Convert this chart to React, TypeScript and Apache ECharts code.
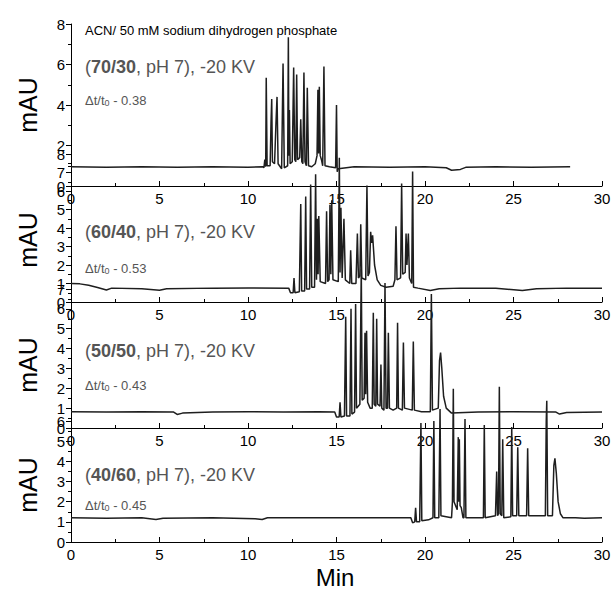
import React, { useEffect, useRef } from "react";
import * as echarts from "echarts";

// ---------- data (time in min, signal in mAU) ----------
const trace7030: number[][] = [
  [0, 0.95], [2, 0.92], [4, 0.95], [6, 0.93], [8, 0.95], [10, 0.93], [10.85, 0.95],
  [10.9, 0.9], [10.95, 1.3], [11.0, 0.95], [11.03, 5.35], [11.08, 1.0],
  [11.25, 1.0], [11.3, 3.1], [11.34, 4.3], [11.38, 1.2],
  [11.5, 1.1], [11.58, 3.1], [11.64, 4.4], [11.7, 1.1],
  [11.9, 0.85], [11.98, 6.05], [12.05, 0.9],
  [12.24, 1.0], [12.28, 7.35], [12.31, 1.5], [12.34, 3.75], [12.38, 1.1],
  [12.5, 1.2], [12.58, 5.85], [12.64, 1.3],
  [12.7, 1.2], [12.75, 5.5], [12.8, 1.3],
  [12.92, 1.4], [12.98, 3.3], [13.04, 1.2],
  [13.1, 1.1], [13.16, 5.6], [13.22, 1.2],
  [13.3, 1.0], [13.35, 4.85], [13.42, 1.0],
  [13.6, 0.95], [13.8, 1.1], [13.9, 1.5], [13.95, 4.75], [13.99, 1.6], [14.03, 4.9], [14.08, 1.5],
  [14.15, 1.3], [14.22, 1.0], [14.29, 5.9], [14.35, 1.0],
  [14.6, 0.95], [14.95, 0.9], [15.0, 4.0], [15.04, 0.7], [15.1, 0.85],
  [16, 0.95], [18, 0.92], [20, 0.95], [21.2, 0.9], [21.5, 0.78], [22, 0.82], [22.3, 0.92],
  [24, 0.95], [26, 0.93], [28.2, 0.95],
];

const trace6040: number[][] = [
  [0, 1.0], [0.5, 0.98], [1, 0.9], [1.5, 0.78], [2, 0.65], [2.3, 0.75], [4, 0.72], [5, 0.64],
  [5.4, 0.72], [8, 0.75], [10, 0.76], [12.3, 0.75], [12.4, 0.5], [12.55, 0.5],
  [12.6, 1.3], [12.65, 0.5],
  [12.9, 0.55], [12.98, 5.3], [13.03, 0.6],
  [13.2, 0.6], [13.26, 5.7], [13.31, 0.7],
  [13.48, 0.7], [13.54, 6.35], [13.6, 0.8],
  [13.76, 0.8], [13.82, 6.9], [13.87, 1.2],
  [13.92, 4.5], [13.96, 1.5], [14.0, 4.65], [14.08, 1.1],
  [14.38, 1.0], [14.44, 4.9], [14.5, 1.1],
  [14.58, 1.2], [14.63, 5.25], [14.68, 1.5], [14.73, 5.5], [14.8, 1.2],
  [15.1, 1.1], [15.16, 7.8], [15.2, 1.6], [15.25, 5.1], [15.32, 1.3], [15.42, 4.5], [15.5, 1.2],
  [15.75, 1.0], [15.8, 2.8], [15.86, 1.0],
  [16.1, 1.0], [16.18, 3.7], [16.24, 1.3], [16.32, 1.4], [16.37, 4.2], [16.43, 1.3],
  [16.65, 1.2], [16.72, 6.3], [16.78, 1.4], [16.86, 1.6], [16.93, 3.8], [16.98, 3.2], [17.04, 3.6],
  [17.15, 2.0], [17.3, 1.2], [17.5, 0.9], [17.8, 0.8],
  [18.2, 0.85], [18.3, 1.2], [18.36, 4.1], [18.42, 1.2],
  [18.62, 1.3], [18.68, 6.4], [18.74, 1.5],
  [18.88, 1.6], [18.93, 3.7], [18.98, 2.0], [19.06, 3.7], [19.12, 1.3],
  [19.25, 1.0], [19.3, 7.05], [19.35, 0.8],
  [19.6, 0.75], [20.3, 0.62], [20.8, 0.72], [22, 0.75], [24, 0.74], [25.5, 0.62], [26.3, 0.72],
  [28, 0.75], [30, 0.75],
];

const trace5050: number[][] = [
  [0, 0.82], [2, 0.8], [4, 0.82], [5.8, 0.8], [6.0, 0.68], [6.3, 0.75], [8, 0.8], [10, 0.82],
  [12, 0.8], [14, 0.82], [14.9, 0.8], [15.0, 0.55],
  [15.15, 0.55], [15.2, 1.3], [15.25, 0.55],
  [15.45, 0.6], [15.52, 5.6], [15.57, 0.6],
  [15.76, 0.6], [15.82, 6.0], [15.87, 0.7],
  [16.02, 0.8], [16.08, 6.25], [16.13, 1.0],
  [16.32, 1.2], [16.4, 8.0], [16.45, 1.4],
  [16.56, 1.5], [16.61, 4.8], [16.65, 1.7], [16.7, 4.9], [16.76, 1.3], [16.9, 1.0],
  [17.02, 1.0], [17.08, 5.8], [17.13, 1.2], [17.22, 1.1], [17.27, 5.5], [17.32, 1.2],
  [17.46, 1.1], [17.51, 3.2], [17.56, 1.0],
  [17.68, 0.9], [17.74, 7.3], [17.8, 1.0],
  [17.88, 1.0], [17.93, 4.8], [17.99, 1.0],
  [18.2, 0.9], [18.4, 1.0], [18.45, 5.3], [18.5, 1.0],
  [18.72, 0.9], [18.78, 4.3], [18.84, 1.0],
  [19.28, 0.9], [19.34, 4.35], [19.4, 0.9],
  [19.8, 0.82], [20.3, 0.82], [20.36, 6.75], [20.42, 0.9],
  [20.75, 1.0], [20.82, 3.4], [20.88, 3.8], [20.95, 3.0], [21.05, 1.6], [21.2, 1.0], [21.5, 0.75],
  [23, 0.8], [25, 0.82], [27.4, 0.8], [27.6, 0.7], [28, 0.78], [30, 0.8],
];

const trace4060: number[][] = [
  [0, 1.2], [2, 1.18], [4, 1.2], [4.8, 1.12], [5.2, 1.18], [8, 1.2], [10.4, 1.15], [10.8, 1.12],
  [11.1, 1.2], [14, 1.2], [16, 1.2], [19.2, 1.2], [19.3, 0.95],
  [19.42, 1.0], [19.47, 1.7], [19.52, 1.0],
  [19.7, 1.0], [19.77, 5.9], [19.82, 1.05],
  [20.2, 1.1], [20.45, 1.2], [20.5, 6.0], [20.55, 1.2],
  [20.78, 1.2], [20.85, 6.6], [20.9, 1.3],
  [21.5, 1.2], [21.55, 2.0], [21.6, 7.6], [21.64, 2.0],
  [21.82, 1.6], [21.88, 5.2], [21.91, 2.0], [21.94, 5.1], [21.98, 1.8], [22.05, 1.7], [22.15, 1.2],
  [22.2, 1.2], [22.26, 6.1], [22.31, 1.2],
  [23.3, 1.2], [23.35, 5.8], [23.4, 1.2],
  [23.98, 1.3], [24.05, 3.5], [24.1, 1.3], [24.15, 1.4], [24.2, 7.7], [24.25, 1.4],
  [24.34, 1.3], [24.39, 5.1], [24.45, 1.2],
  [24.85, 1.25], [24.9, 5.7], [24.95, 1.3],
  [25.18, 1.3], [25.24, 4.7], [25.3, 1.3],
  [25.74, 1.3], [25.8, 4.65], [25.86, 1.3],
  [26.8, 1.3], [26.85, 6.0], [26.88, 7.0], [26.93, 1.3],
  [27.2, 1.3], [27.28, 3.8], [27.34, 4.15], [27.42, 3.4], [27.52, 2.0], [27.65, 1.4], [27.8, 1.2],
  [28.5, 1.2], [29, 1.18], [30, 1.2],
];

const traces = [trace7030, trace6040, trace5050, trace4060];
const ratios = ["70/30", "60/40", "50/50", "40/60"];
const dtt0 = ["0.38", "0.53", "0.43", "0.45"];
const yMax = [8, 8, 7, 6];
const yInterval = [2, 1, 1, 1];
const xTicks = [0, 5, 10, 15, 20, 25, 30];
const title = "ACN/ 50 mM sodium dihydrogen phosphate";
const yName = "mAU";
const xName = "Min";

// ---------- layout ----------
const panelTop = [24, 154, 289, 421];
const panelBottom = [186, 302, 428, 542];
const condY = [67, 232, 351, 475];
const dtY = [100, 268, 385, 505];
const mauY = [105, 240, 365, 485];

const FONT = "'Liberation Sans', Arial, Helvetica, sans-serif";

export default function App() {
  const ref = useRef<HTMLDivElement>(null);
  useEffect(() => {
    if (!ref.current) return;
    const chart = echarts.init(ref.current, undefined, { renderer: "svg" });
    const grids = panelTop.map((t, i) => ({
      left: 71,
      right: 12,
      top: t,
      height: panelBottom[i] - t,
    }));
    const xAxes = traces.map((_, i) => ({
      type: "value" as const,
      gridIndex: i,
      min: xTicks[0],
      max: xTicks[xTicks.length - 1],
      interval: 5,
      axisLine: { show: true, onZero: false, lineStyle: { color: "#000", width: 1 } },
      axisTick: { show: true, inside: true, length: 5, lineStyle: { color: "#000" } },
      minorTick: { show: true, splitNumber: 2, length: 3, lineStyle: { color: "#000" } },
      splitLine: { show: false },
      axisLabel: { show: true, fontSize: 15, color: "#000", fontFamily: FONT, margin: 5 },
    }));
    const yAxes = traces.map((_, i) => ({
      type: "value" as const,
      gridIndex: i,
      min: 0,
      max: yMax[i],
      interval: yInterval[i],
      axisLine: { show: true, lineStyle: { color: "#000", width: 1 } },
      axisTick: { show: true, inside: false, length: 5, lineStyle: { color: "#000" } },
      minorTick: { show: true, splitNumber: 2, length: 3, lineStyle: { color: "#000" } },
      splitLine: { show: false },
      axisLabel: { show: true, fontSize: 15, color: "#000", fontFamily: FONT, margin: 6 },
    }));
    const series = traces.map((d, i) => ({
      type: "line" as const,
      xAxisIndex: i,
      yAxisIndex: i,
      data: d,
      showSymbol: false,
      clip: false,
      z: 2 + i,
      lineStyle: { color: "#1e1e1e", width: 1.5 },
    }));
    const graphics: any[] = [
      {
        type: "text",
        x: 85,
        y: 30,
        style: { text: title, fontSize: 13, fontFamily: FONT, fill: "#000", verticalAlign: "middle" },
      },
      {
        type: "text",
        x: 335,
        y: 577,
        style: { text: xName, fontSize: 24, fontFamily: FONT, fill: "#000", align: "center", verticalAlign: "middle" },
      },
    ];
    ratios.forEach((r, i) => {
      graphics.push({
        type: "text",
        x: 85,
        y: condY[i],
        style: {
          text: `{n|(}{b|${r}}{n|, pH 7), -20 KV}`,
          verticalAlign: "middle",
          rich: {
            n: { fontSize: 18, fontFamily: FONT, fill: "#555", color: "#555" },
            b: { fontSize: 18, fontFamily: FONT, fontWeight: "bold", fill: "#555", color: "#555" },
          },
        },
      });
      graphics.push({
        type: "text",
        x: 85,
        y: dtY[i],
        style: {
          text: `{n|\u0394t/t}{s|0}{n| - ${dtt0[i]}}`,
          verticalAlign: "middle",
          rich: {
            n: { fontSize: 13, fontFamily: FONT, fill: "#555", color: "#555" },
            s: { fontSize: 9, fontFamily: FONT, fill: "#555", color: "#555", verticalAlign: "bottom", padding: [6, 0, 0, 0] },
          },
        },
      });
      graphics.push({
        type: "text",
        x: 28,
        y: mauY[i],
        rotation: Math.PI / 2,
        style: { text: yName, fontSize: 25, fontFamily: FONT, fill: "#000", align: "center", verticalAlign: "middle" },
      });
    });
    chart.setOption({
      animation: false,
      backgroundColor: "#fff",
      grid: grids,
      xAxis: xAxes,
      yAxis: yAxes,
      series,
      graphic: graphics,
    });
    return () => chart.dispose();
  }, []);
  return (
    <div
      ref={ref}
      style={{ position: "absolute", left: 0, top: 0, width: 614, height: 590 }}
    />
  );
}
